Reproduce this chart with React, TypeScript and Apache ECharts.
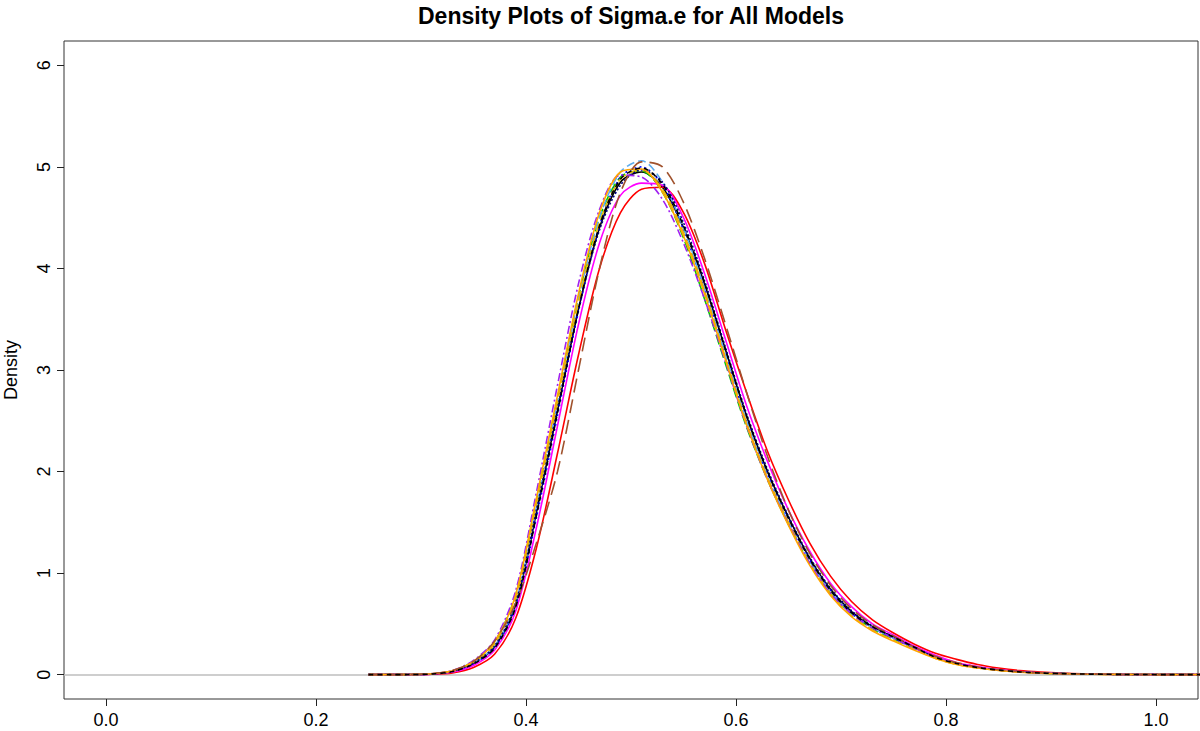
import React, { useEffect, useRef } from "react";
import * as echarts from "echarts";

const TITLE = "Density Plots of Sigma.e for All Models";
const Y_NAME = "Density";

const xGrid = [0.25,0.27,0.29,0.31,0.33,0.35,0.37,0.39,0.41,0.43,0.45,0.47,0.49,0.51,0.53,0.55,0.57,0.59,0.61,0.63,0.65,0.67,0.69,0.71,0.73,0.75,0.77,0.79,0.81,0.83,0.85,0.87,0.89,0.91,0.93,0.95,0.97,0.99,1.01,1.03,1.05];

const xTicks = [0, 0.2, 0.4, 0.6, 0.8, 1.0];
const yTicks = [0, 1, 2, 3, 4, 5, 6];

const blackSolid = [0,0,0.001,0.006,0.03, 0.11,0.27,0.68,1.6,2.6, 3.6,4.4,4.85,4.95,4.8, 4.4,3.85,3.2,2.55,2.0, 1.55,1.15,0.84,0.62,0.47, 0.37,0.27,0.17,0.11,0.07, 0.045,0.027,0.016,0.01,0.006, 0.004,0.002,0.001,0,0, 0];
const redSolid = [0,0,0,0.003,0.017, 0.07,0.2,0.55,1.25,2.18, 3.15,4.0,4.55,4.78,4.8, 4.55,4.05,3.4,2.78,2.2, 1.72,1.3,0.97,0.72,0.54, 0.41,0.3,0.21,0.15,0.1, 0.065,0.04,0.025,0.015,0.009, 0.005,0.003,0.001,0,0, 0];
const greenDash = [0,0,0.001,0.007,0.035, 0.13,0.32,0.78,1.72,2.72, 3.72,4.5,4.9,4.96,4.75, 4.3,3.7,3.06,2.44,1.92, 1.48,1.1,0.8,0.6,0.45, 0.35,0.26,0.17,0.11,0.07, 0.045,0.027,0.016,0.01,0.006, 0.004,0.002,0.001,0,0, 0];
const blueDot = [0,0,0.001,0.006,0.03, 0.1,0.26,0.66,1.55,2.55, 3.58,4.42,4.9,5.0,4.82, 4.38,3.8,3.15,2.5,1.97, 1.52,1.13,0.83,0.61,0.46, 0.36,0.26,0.17,0.11,0.07, 0.044,0.027,0.016,0.01,0.006, 0.004,0.002,0.001,0,0, 0];
const skyDash = [0,0,0.001,0.006,0.03, 0.11,0.28,0.7,1.65,2.68, 3.7,4.5,4.95,5.06,4.85, 4.4,3.8,3.15,2.5,1.95, 1.5,1.12,0.82,0.6,0.46, 0.36,0.26,0.17,0.11,0.07, 0.044,0.027,0.016,0.01,0.006, 0.004,0.002,0.001,0,0, 0];
const magentaSolid = [0,0,0.001,0.005,0.025, 0.09,0.24,0.62,1.45,2.45, 3.45,4.25,4.72,4.84,4.82, 4.5,3.95,3.3,2.65,2.1, 1.62,1.22,0.9,0.67,0.5, 0.39,0.28,0.19,0.12,0.08, 0.05,0.03,0.018,0.011,0.007, 0.004,0.002,0.001,0,0, 0];
const goldDash = [0,0,0.001,0.007,0.034, 0.12,0.3,0.74,1.68,2.68, 3.66,4.45,4.88,4.97,4.78, 4.35,3.78,3.12,2.48,1.94, 1.5,1.1,0.8,0.58,0.44, 0.34,0.25,0.16,0.1,0.065, 0.042,0.025,0.015,0.009,0.005, 0.003,0.002,0.001,0,0, 0];
const navyDot = [0,0,0.001,0.007,0.032, 0.115,0.28,0.7,1.62,2.62, 3.6,4.38,4.82,4.97,4.85, 4.45,3.88,3.22,2.57,2.02, 1.56,1.16,0.85,0.63,0.48, 0.37,0.27,0.17,0.11,0.07, 0.045,0.027,0.016,0.01,0.006, 0.004,0.002,0.001,0,0, 0];
const purpleDotDash = [0,0,0.001,0.008,0.04, 0.14,0.34,0.82,1.8,2.85, 3.85,4.58,4.92,4.9,4.68, 4.25,3.7,3.08,2.45,1.92, 1.48,1.1,0.8,0.6,0.46, 0.36,0.26,0.17,0.11,0.07, 0.045,0.027,0.016,0.01,0.006, 0.004,0.002,0.001,0,0, 0];
const orangeSolid = [0,0,0.001,0.008,0.038, 0.13,0.32,0.78,1.74,2.75, 3.75,4.55,4.95,4.98,4.75, 4.32,3.75,3.1,2.46,1.92, 1.47,1.08,0.78,0.57,0.43, 0.33,0.24,0.16,0.1,0.065, 0.04,0.024,0.014,0.009,0.005, 0.003,0.002,0.001,0,0, 0];
const brownLongDash = [0,0,0.002,0.01,0.04, 0.13,0.33,0.7,1.3,2.0, 3.0,4.0,4.75,5.05,5.0, 4.65,4.1,3.45,2.78,2.15, 1.62,1.2,0.88,0.65,0.49, 0.38,0.27,0.18,0.12,0.075, 0.048,0.03,0.018,0.011,0.007, 0.004,0.002,0.001,0,0, 0];
const blackDash = [0,0,0.001,0.006,0.03, 0.105,0.26,0.66,1.57,2.58, 3.6,4.42,4.88,4.99,4.83, 4.42,3.86,3.2,2.55,2.0, 1.54,1.14,0.83,0.61,0.47, 0.37,0.27,0.17,0.11,0.07, 0.045,0.027,0.016,0.01,0.006, 0.004,0.002,0.001,0,0, 0];

const curves = [
  { name: "M1", values: blackSolid, color: "#000000", dash: "solid" as any },
  { name: "M2", values: redSolid, color: "#FF0000", dash: "solid" as any },
  { name: "M3", values: greenDash, color: "#00CD00", dash: [10, 4] },
  { name: "M4", values: blueDot, color: "#0000FF", dash: [2, 3] },
  { name: "M5", values: skyDash, color: "#5CACEE", dash: [8, 4] },
  { name: "M6", values: magentaSolid, color: "#FF00FF", dash: "solid" as any },
  { name: "M7", values: goldDash, color: "#E6B800", dash: [10, 4] },
  { name: "M8", values: navyDot, color: "#000080", dash: [2, 2] },
  { name: "M9", values: purpleDotDash, color: "#A020F0", dash: [2, 3, 8, 3] },
  { name: "M10", values: orangeSolid, color: "#FFA500", dash: "solid" as any },
  { name: "M11", values: brownLongDash, color: "#A0522D", dash: [14, 7] },
  { name: "M12", values: blackDash, color: "#000000", dash: [5, 4] },
];

const FONT = '"Liberation Sans", Arial, Helvetica, sans-serif';

export default function App() {
  const ref = useRef<HTMLDivElement>(null);
  useEffect(() => {
    document.body.style.margin = "0";
    const chart = echarts.init(ref.current!, undefined, { renderer: "svg" });
    const series: any[] = curves.map((c, i) => ({
      name: c.name,
      type: "line",
      data: xGrid.map((x, j) => [x, c.values[j]]),
      showSymbol: false,
      smooth: 0.3,
      clip: true,
      z: 3,
      lineStyle: { color: c.color, width: 1.6, type: c.dash },
      ...(i === 0
        ? {
            markLine: {
              silent: true,
              symbol: "none",
              label: { show: false },
              lineStyle: { color: "#BEBEBE", width: 1.5, type: "solid" },
              data: [{ yAxis: 0 }],
              z: 1,
            },
          }
        : {}),
    }));
    chart.setOption({
      animation: false,
      backgroundColor: "#ffffff",
      textStyle: { fontFamily: FONT },
      graphic: [
        {
          type: "text",
          x: 631,
          y: 16,
          style: {
            text: TITLE,
            fill: "#000",
            font: `bold 23px ${FONT}`,
            textAlign: "center",
            textVerticalAlign: "middle",
            align: "center",
            verticalAlign: "middle",
          },
        },
      ],
      grid: {
        left: 64,
        right: 2,
        top: 41,
        bottom: 32,
        show: true,
        borderColor: "#333",
        borderWidth: 1,
        backgroundColor: "transparent",
        containLabel: false,
        outerBoundsMode: "none",
      },
      xAxis: {
        type: "value",
        min: -0.04,
        max: 1.04,
        axisLine: { show: false, onZero: false },
        splitLine: { show: false },
        axisTick: { show: true, length: 7, lineStyle: { color: "#222" }, customValues: xTicks },
        axisLabel: {
          color: "#000",
          fontSize: 18,
          fontFamily: FONT,
          margin: 12,
          customValues: xTicks,
          formatter: (v: number) => v.toFixed(1),
        },
      },
      yAxis: {
        type: "value",
        min: -0.24,
        max: 6.24,
        name: Y_NAME,
        nameLocation: "middle",
        nameGap: 44,
        nameRotate: 90,
        nameTextStyle: { color: "#000", fontSize: 18, fontFamily: FONT },
        axisLine: { show: false, onZero: false },
        splitLine: { show: false },
        axisTick: { show: true, length: 7, lineStyle: { color: "#222" }, customValues: yTicks },
        axisLabel: {
          color: "#000",
          fontSize: 18,
          fontFamily: FONT,
          rotate: 90,
          margin: 11,
          customValues: yTicks,
          formatter: (v: number) => String(Math.round(v)),
        },
      },
      series,
    });
    return () => chart.dispose();
  }, []);
  return <div ref={ref} style={{ position: "absolute", left: 0, top: 0, width: 1200, height: 731 }} />;
}
